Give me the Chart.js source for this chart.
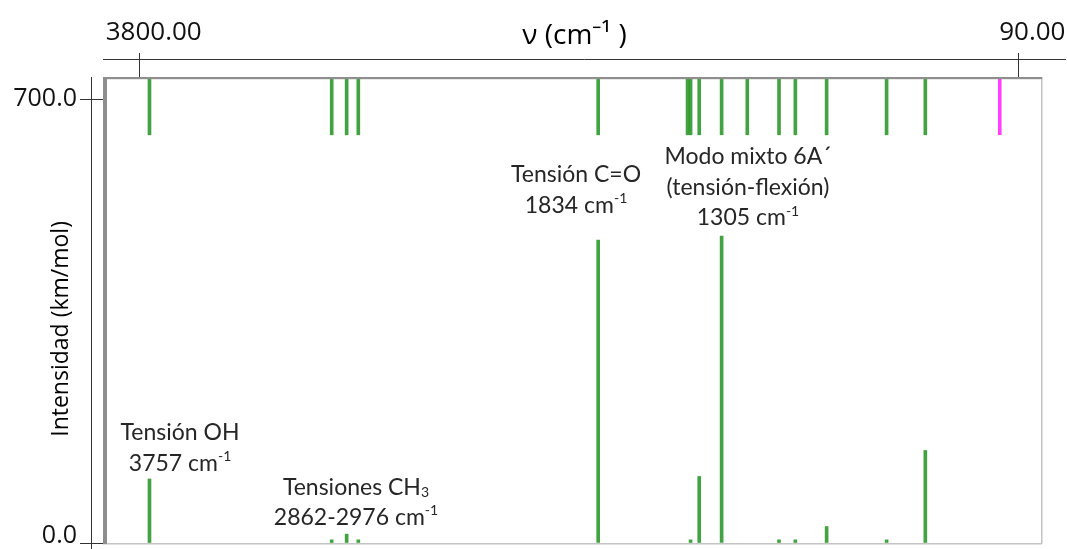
<!DOCTYPE html>
<html><head><meta charset="utf-8">
<script src="https://cdn.jsdelivr.net/npm/chart.js@4.4.1/dist/chart.umd.min.js"></script>
<style>html,body{margin:0;padding:0;background:#fff}canvas{display:block}</style>
</head><body>
<canvas id="c" width="1067" height="549"></canvas>
<script>
// ---- data ----
const frequencies = [3757, 2976, 2912, 2862, 1834, 1451, 1438, 1401, 1305, 1195, 1059, 989, 855, 598, 432, 113];
const intensities = [101, 5, 14, 5, 478, 0, 5, 105, 484, 0, 5, 5, 26, 5, 146, 0];
const modeIsHighlighted = [false,false,false,false,false,false,false,false,false,false,false,false,false,false,false,true];
const topTickValues = [3800, 90];
const yTickValues = [0, 700];
const modeMarkerRange = [644, 732];

const annotations = [
  {x: 3626, y: 174, lines: [[{t:'Tensión OH'}], [{t:'3757 cm'},{t:'-1',sup:true}]]},
  {x: 2872, y: 88,  lines: [[{t:'Tensiones CH'},{t:'3',sub:true}], [{t:'2862-2976 cm'},{t:'-1',sup:true}]]},
  {x: 1929, y: 581, lines: [[{t:'Tensión C=O'}], [{t:'1834 cm'},{t:'-1',sup:true}]]},
  {x: 1192, y: 609, lines: [[{t:'Modo mixto 6A´'}], [{t:'(tensión-flexión)'}], [{t:'1305 cm'},{t:'-1',sup:true}]]}
];

const GREEN = 'rgba(20,140,20,0.8)';
const MAGENTA = 'rgb(255,64,255)';

const framePlugin = {
  id: 'frame',
  afterDraw(chart) {
    const {ctx, chartArea: a} = chart;
    ctx.save();
    ctx.fillStyle = '#c4c4c4';
    ctx.fillRect(a.right - 1, a.top - 2, 1.5, a.bottom - a.top + 3);
    ctx.fillRect(a.left - 4, a.bottom, a.right - a.left + 4, 1.5);
    ctx.fillStyle = '#8e8e8e';
    ctx.fillRect(a.left - 4, a.top - 2, 4, a.bottom - a.top + 3);
    ctx.fillRect(a.left - 4, a.top - 2, a.right - a.left + 4, 2.2);
    ctx.strokeStyle = '#333';
    ctx.lineWidth = 1;
    ctx.beginPath();
    ctx.moveTo(a.left - 4, 59.5); ctx.lineTo(1066, 59.5);
    ctx.moveTo(91.5, a.top - 2); ctx.lineTo(91.5, 549);
    ctx.stroke();
    ctx.restore();
  }
};

const annotationPlugin = {
  id: 'notes',
  afterDatasetsDraw(chart) {
    const {ctx} = chart;
    const xs = chart.scales.x, ys = chart.scales.y;
    const size = 23, lh = 30.5;
    const fam = 'Lato, "Open Sans", sans-serif';
    ctx.save();
    ctx.fillStyle = '#262626';
    ctx.textBaseline = 'middle';
    ctx.textAlign = 'left';
    annotations.forEach(an => {
      const cx = xs.getPixelForValue(an.x);
      const cy = ys.getPixelForValue(an.y);
      an.lines.forEach((segs, i) => {
        let w = 0;
        segs.forEach(s => {
          ctx.font = (s.sup || s.sub ? Math.round(size * 0.6) : size) + 'px ' + fam;
          s.w = ctx.measureText(s.t).width;
          w += s.w;
        });
        let x = cx - w / 2;
        const y = cy + i * lh;
        segs.forEach(s => {
          ctx.font = (s.sup || s.sub ? Math.round(size * 0.6) : size) + 'px ' + fam;
          const dy = s.sup ? -size * 0.3 : (s.sub ? size * 0.25 : 0);
          ctx.fillText(s.t, x, y + dy);
          x += s.w;
        });
      });
    });
    ctx.restore();
  }
};

new Chart(document.getElementById('c'), {
  type: 'bar',
  data: {
    datasets: [
      {
        label: 'Modos',
        data: frequencies.map(f => ({x: f, y: modeMarkerRange})),
        backgroundColor: modeIsHighlighted.map(h => h ? MAGENTA : GREEN),
        barThickness: 3,
        grouped: false,
        xAxisID: 'x', yAxisID: 'y'
      },
      {
        label: 'Intensidad',
        data: frequencies.map((f, i) => ({x: f, y: intensities[i] > 0 ? intensities[i] : null})),
        backgroundColor: GREEN,
        barThickness: 3,
        grouped: false,
        xAxisID: 'x', yAxisID: 'y'
      }
    ]
  },
  options: {
    responsive: false,
    animation: false,
    layout: {padding: {top: 0, right: 25, bottom: 6, left: 0}},
    plugins: {legend: {display: false}, tooltip: {enabled: false}},
    scales: {
      x: {type: 'linear', min: -68, max: 3939, reverse: true, display: false, offset: false},
      x2: {
        type: 'linear', position: 'top', min: -10, max: 3938, reverse: true, offset: false,
        afterBuildTicks: s => { s.ticks = topTickValues.map(v => ({value: v})); },
        afterFit: s => { s.height = 79; s.paddingLeft = 0; s.paddingRight = 0; },
        ticks: {callback: v => v.toFixed(2), font: {family: 'Open Sans', size: 26}, color: '#111',
                padding: 5, labelOffset: 14, maxRotation: 0, autoSkip: false},
        grid: {drawOnChartArea: false, drawTicks: true, tickLength: 26, color: '#333', offset: false},
        border: {display: false},
        title: {display: true, text: 'ν (cm⁻¹ )', font: {family: 'Open Sans', size: 28}, color: '#000',
                padding: {top: 19, bottom: 0}}
      },
      y: {
        min: 0, max: 732,
        afterBuildTicks: s => { s.ticks = yTickValues.map(v => ({value: v})); },
        afterFit: s => { s.width = 107; s.paddingTop = 0; s.paddingBottom = 0; },
        ticks: {callback: v => v === 0 ? [v.toFixed(1), ''] : v.toFixed(1),
                font: {family: 'Open Sans', size: 25, lineHeight: 0.6}, color: '#111', padding: 3},
        grid: {drawOnChartArea: false, drawTicks: true, tickLength: 27, color: '#333'},
        border: {display: false},
        title: {display: true, text: 'Intensidad (km/mol)\u00a0\u00a0\u00a0\u00a0\u00a0\u00a0',
                font: {family: 'Open Sans', size: 23}, color: '#000', padding: {top: 48, bottom: 0}}
      }
    }
  },
  plugins: [framePlugin, annotationPlugin]
});
</script>
</body></html>
